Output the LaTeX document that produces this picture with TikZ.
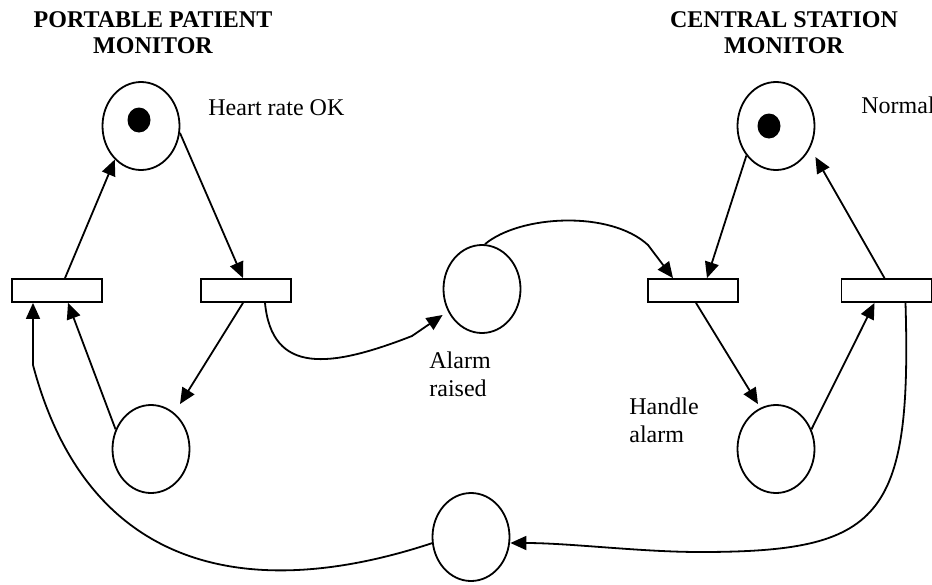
\documentclass[tikz,border=0pt]{standalone}
\usepackage{fontspec}
\setmainfont{Liberation Serif}
\usepackage{tikz}
\usetikzlibrary{arrows.meta}
\usetikzlibrary{shapes.geometric}
\tikzset{
  place/.style={draw, ellipse, line width=0.9pt, minimum width=38.5pt, minimum height=44pt, inner sep=0pt},
  trans/.style={draw, rectangle, line width=0.9pt, minimum width=45pt, minimum height=11.5pt, inner sep=0pt},
  token/.style={fill, ellipse, minimum width=11.5pt, minimum height=12.5pt, inner sep=0pt},
  arc/.style={line width=0.9pt, -{Triangle[length=8pt,width=7pt]}},
  lbl/.style={font=\fontsize{12}{14}\selectfont, inner sep=0pt},
  title/.style={font=\bfseries\fontsize{12}{13}\selectfont, align=center, inner sep=0pt, anchor=north}
}

\begin{document}
\begin{tikzpicture}[x=0.5pt, y=-0.5pt]
        \useasboundingbox (0,0) rectangle (932,584);
        % titles
        \node[title] (ttlp) at (153,11) {PORTABLE PATIENT\\MONITOR};
        \node[title] (ttlc) at (784,11) {CENTRAL STATION\\MONITOR};
        % places
        \node[place] (ptl) at (141,126) {};
        \node[place] (ptr) at (776,126) {};
        \node[place] (pm) at (482,289) {};
        \node[place] (pbl) at (151,449) {};
        \node[place] (pbr) at (776,449) {};
        \node[place] (pbc) at (471,537) {};
        % tokens
        \node[token] (kl) at (139,120) {};
        \node[token] (kr) at (769,126) {};
        % transitions
        \node[trans] (tl1) at (57,290.5) {};
        \node[trans] (tl2) at (246,290.5) {};
        \node[trans] (tr1) at (693,290.5) {};
        \node[trans] (tr2) at (886.5,290.5) {};
        % labels
        \node[lbl, anchor=base west] (lok) at (208,115) {Heart rate OK};
        \node[lbl, anchor=base west] (lnorm) at (861,113) {Normal};
        \node[lbl, anchor=north west, align=left] (lraise) at (429,351) {Alarm\\raised};
        \node[lbl, anchor=north west, align=left] (lhand) at (629,397) {Handle\\alarm};
        % bend points
        \coordinate (bend) at (33,365);
        \coordinate (kink) at (412,336);
        \coordinate (kinkb) at (648,245);
        \coordinate (low) at (700,552);
        % portable patient monitor
        \draw[arc] ([xshift=4pt]tl1.north) -- (ptl.232);
        \draw[arc] (ptl.350) -- ([xshift=-1.5pt]tl2.north);
        \draw[arc] ([xshift=-1.5pt]tl2.south) -- ([xshift=14.5pt]pbl.north);
        \draw[arc] (pbl.151) -- ([xshift=5.5pt]tl1.south);
        % alarm
        \draw[arc] ([xshift=9.5pt]tl2.south) .. controls (272,375) and (330,368) .. (kink) -- ([yshift=-13pt]pm.west);
        \draw[arc] ([xshift=1.5pt]pm.north) .. controls (520,215) and (610,210) .. (kinkb) -- ([xshift=-10pt]tr1.north);
        % central station monitor
        \draw[arc] (ptr.225) -- ([xshift=7pt]tr1.north);
        \draw[arc] ([xshift=1.5pt]tr1.south) -- ([xshift=-9pt]pbr.north);
        \draw[arc] (pbr.29) -- ([xshift=-6pt]tr2.south);
        \draw[arc] ([xshift=-1pt]tr2.north) -- ([yshift=-15.5pt]ptr.east);
        % acknowledge
        \draw[arc] ([xshift=9.5pt]tr2.south) .. controls (912,520) and (880,552) .. (low) .. controls (640,552) and (570,543) .. ([yshift=-3pt]pbc.east);
        \draw[arc] (pbc.189) .. controls (260,600) and (90,580) .. (bend) -- ([xshift=-12pt]tl1.south);
    \end{tikzpicture}
\end{document}
